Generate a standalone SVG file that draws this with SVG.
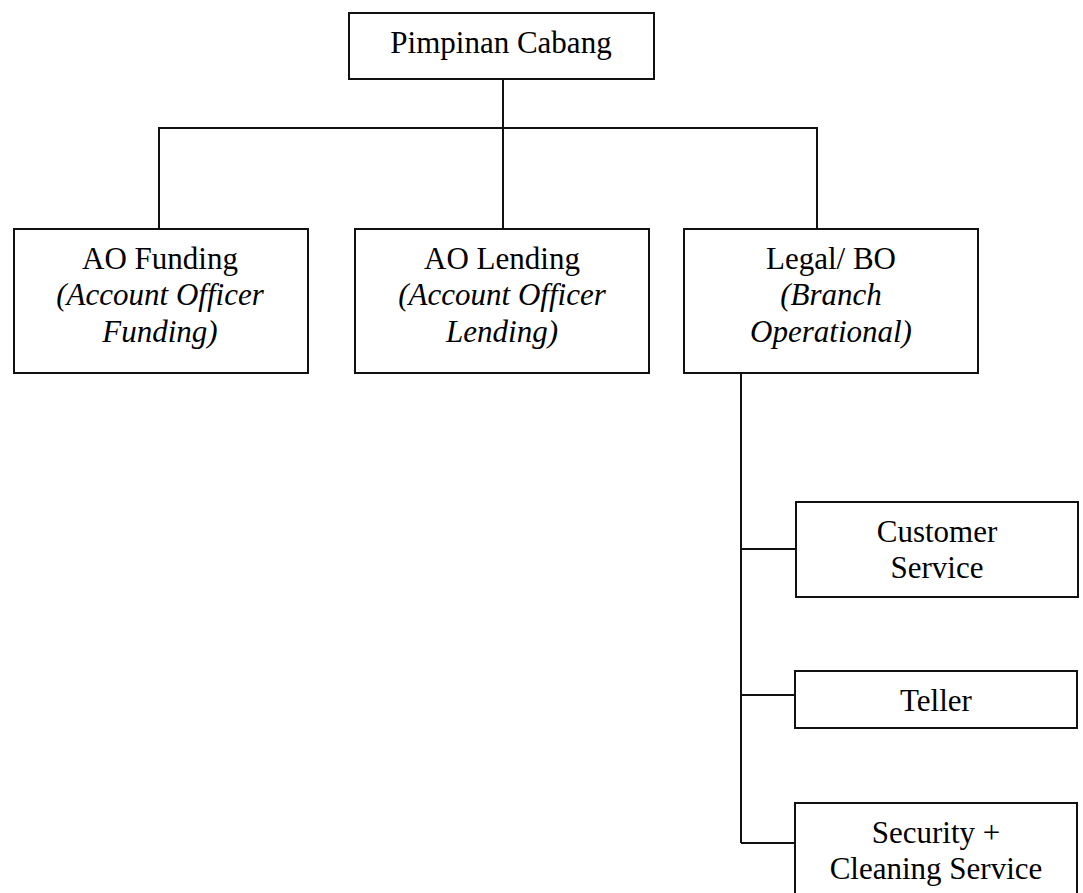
<svg xmlns="http://www.w3.org/2000/svg" width="1083" height="893" viewBox="0 0 1083 893">
<style>
.box{fill:#fff;stroke:#111;stroke-width:2}
.ln{fill:none;stroke:#111;stroke-width:2}
text{font-family:"Liberation Serif","Times New Roman",serif;font-size:31px;fill:#000;text-anchor:middle}
.it{font-style:italic}
</style>
<rect width="1083" height="893" fill="#fff"/>
<g id="connectors">
<path class="ln" d="M503,79 V128 M159,229 V128 H817 V229 M503,128 V229"/>
<path class="ln" d="M741,373 V843 M741,549 H796 M741,695 H795 M741,843 H795"/>
</g>
<g id="pimpinan">
<rect class="box" x="349" y="13" width="305" height="66"/>
<text x="501" y="53">Pimpinan Cabang</text>
</g>
<g id="ao-funding">
<rect class="box" x="14" y="229" width="294" height="144"/>
<text x="160" y="269">AO Funding</text>
<text class="it" x="160" y="305">(Account Officer</text>
<text class="it" x="160" y="342">Funding)</text>
</g>
<g id="ao-lending">
<rect class="box" x="355" y="229" width="294" height="144"/>
<text x="502" y="269">AO Lending</text>
<text class="it" x="502" y="305">(Account Officer</text>
<text class="it" x="502" y="342">Lending)</text>
</g>
<g id="legal-bo">
<rect class="box" x="684" y="229" width="294" height="144"/>
<text x="831" y="269">Legal/ BO</text>
<text class="it" x="831" y="305">(Branch</text>
<text class="it" x="831" y="342">Operational)</text>
</g>
<g id="customer-service">
<rect class="box" x="796" y="502" width="282" height="95"/>
<text x="937" y="542">Customer</text>
<text x="937" y="578">Service</text>
</g>
<g id="teller">
<rect class="box" x="795" y="671" width="282" height="57"/>
<text x="936" y="711">Teller</text>
</g>
<g id="security">
<rect class="box" x="795" y="803" width="282" height="100"/>
<text x="936" y="843">Security +</text>
<text x="936" y="879">Cleaning Service</text>
</g>
</svg>
